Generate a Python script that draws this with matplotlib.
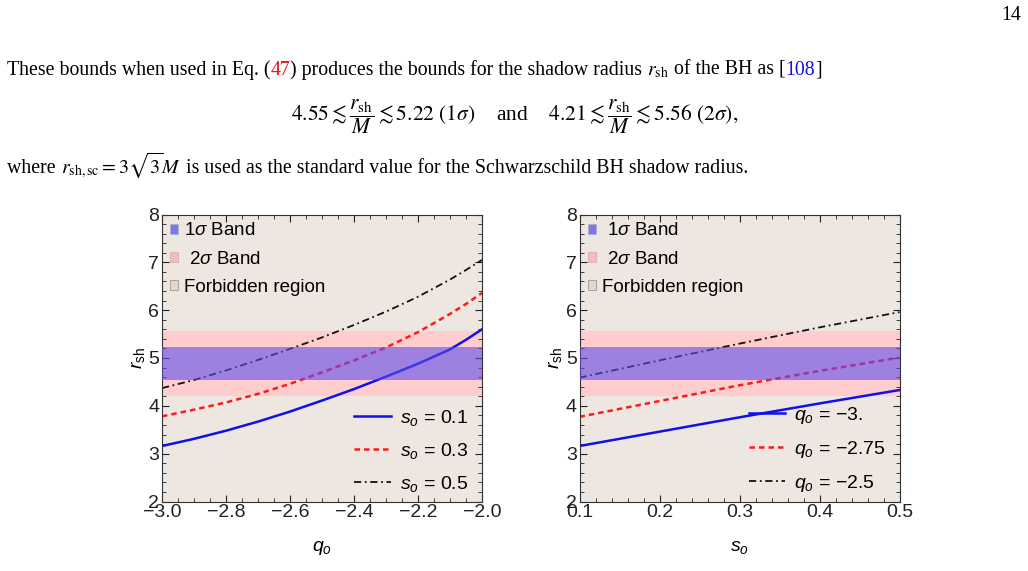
import matplotlib
matplotlib.use("Agg")
import matplotlib.pyplot as plt
from matplotlib.patches import Patch
from matplotlib.lines import Line2D
from matplotlib.ticker import MultipleLocator, FuncFormatter

# ---------------- data ----------------
q_vals = [-3.0, -2.9, -2.8, -2.7, -2.6, -2.5, -2.4, -2.3, -2.2, -2.1, -2.05, -2.0]
rsh_s01 = [3.16, 3.31, 3.48, 3.67, 3.88, 4.11, 4.35, 4.61, 4.88, 5.18, 5.38, 5.60]
rsh_s03 = [3.78, 3.92, 4.07, 4.25, 4.46, 4.70, 4.95, 5.22, 5.54, 5.92, 6.13, 6.36]
rsh_s05 = [4.37, 4.54, 4.74, 4.96, 5.19, 5.43, 5.69, 5.97, 6.28, 6.64, 6.84, 7.05]

s_vals = [0.1, 0.2, 0.3, 0.4, 0.5]
rsh_qm300 = [3.16, 3.46, 3.76, 4.05, 4.33]
rsh_qm275 = [3.77, 4.10, 4.43, 4.73, 5.01]
rsh_qm250 = [4.59, 4.95, 5.30, 5.64, 5.96]

band1 = (4.55, 5.22)
band2 = (4.21, 5.56)

left_labels = ["$s_o$ = 0.1", "$s_o$ = 0.3", "$s_o$ = 0.5"]
right_labels = ["$q_o$ = \u22123.", "$q_o$ = \u22122.75", "$q_o$ = \u22122.5"]
band_labels_left = ["1$\\sigma$ Band", " 2$\\sigma$ Band", "Forbidden region"]
band_labels_right = [" 1$\\sigma$ Band", " 2$\\sigma$ Band", "Forbidden region"]

# ---------------- style ----------------
plt.rcParams['font.family'] = ['Liberation Sans', 'DejaVu Sans']
plt.rcParams['mathtext.fontset'] = 'custom'
plt.rcParams['mathtext.it'] = 'Liberation Sans:italic'
plt.rcParams['mathtext.rm'] = 'Liberation Sans'
plt.rcParams['mathtext.sf'] = 'Liberation Sans'

W, H = 1028, 571
fig = plt.figure(figsize=(W / 100, H / 100), dpi=100)

BG = '#EEE7E1'
C2 = '#FFCDCD'
C1_OVER = (0.36, 0.30, 0.93)

def make_panel(rect, x, series, styles, labels, band_labels, xlim, xmajor, xminor, xlabel, xfmt):
    ax = fig.add_axes(rect)
    ax.set_facecolor(BG)
    ax.axhspan(band2[0], band2[1], color=C2, zorder=1, lw=0)
    for y, st in zip(series, styles):
        ax.plot(x, y, zorder=2, **st)
    ax.axhspan(band1[0], band1[1], color=C1_OVER, alpha=0.6, zorder=3, lw=0)
    ax.set_xlim(*xlim)
    ax.set_ylim(2, 8)
    ax.xaxis.set_major_locator(MultipleLocator(xmajor))
    ax.xaxis.set_minor_locator(MultipleLocator(xminor))
    ax.yaxis.set_major_locator(MultipleLocator(1))
    ax.yaxis.set_minor_locator(MultipleLocator(0.2))
    ax.xaxis.set_major_formatter(xfmt)
    ax.tick_params(which='both', direction='in', top=True, right=True, labelsize=14, colors='#222222', pad=2)
    ax.tick_params(which='major', length=5, width=0.8)
    ax.tick_params(which='minor', length=3, width=0.6)
    for sp in ax.spines.values():
        sp.set_color('#333333')
        sp.set_linewidth(0.8)
    ax.set_ylabel("$r_{\\mathrm{sh}}$", fontsize=14, labelpad=1)
    ax.set_xlabel(xlabel, fontsize=14, labelpad=13)

    # band legend
    hb = [Patch(facecolor='#7B78E6', edgecolor='#B0B0D0', lw=0.6),
          Patch(facecolor='#F3BDBD', edgecolor='#D8B0B0', lw=0.6),
          Patch(facecolor='#E2D7CB', edgecolor='#A09890', lw=0.6)]
    leg1 = ax.legend(hb, band_labels, loc='upper left', bbox_to_anchor=(-0.01, 1.012),
                     frameon=False, fontsize=13.5, handlelength=0.45, handleheight=0.45,
                     handletextpad=0.3, labelspacing=0.6, borderaxespad=0.2)
    ax.add_artist(leg1)
    hl = [Line2D([], [], **st) for st in styles]
    ax.legend(hl, labels, loc='lower right', bbox_to_anchor=(1.0, -0.022), frameon=False,
              fontsize=14, handlelength=1.9, handletextpad=0.45, labelspacing=0.68,
              borderaxespad=0.3)
    return ax

styles = [dict(color='#1010E8', lw=1.8, ls='-'),
          dict(color='#FF1A1A', lw=1.8, ls=(0, (2.2, 1.6))),
          dict(color='#111111', lw=1.3, ls=(0, (4, 2, 1, 2)))]

fmt_q = FuncFormatter(lambda v, p: f"{v:.1f}".replace('-', '\u2212'))
fmt_s = FuncFormatter(lambda v, p: f"{v:.1f}")

ax1 = make_panel([162 / W, 69.5 / H, 320 / W, 287 / H], q_vals,
                 [rsh_s01, rsh_s03, rsh_s05], styles, left_labels, band_labels_left,
                 (-3.0, -2.0), 0.2, 0.05, "$q_o$", fmt_q)
ax2 = make_panel([579.5 / W, 69.5 / H, 320 / W, 287 / H], s_vals,
                 [rsh_qm300, rsh_qm275, rsh_qm250], styles, right_labels, band_labels_right,
                 (0.1, 0.5), 0.1, 0.02, "$s_o$", fmt_s)

# ---------------- page text ----------------
serif = ['Liberation Serif', 'DejaVu Serif']
TS = 14.3
renderer = fig.canvas.get_renderer()

def seq_text(x_px, y_px, pieces, size=TS):
    x = x_px
    for s, c in pieces:
        t = fig.text(x / W, 1 - y_px / H, s, color=c, fontsize=size, family=serif,
                     va='baseline', ha='left', math_fontfamily='stix')
        bb = t.get_window_extent(renderer)
        x += bb.width

fig.text(1021 / W, 1 - 20 / H, "14", fontsize=TS, family=serif, ha='right', va='baseline')
seq_text(7, 75, [("These bounds when used in Eq. (", 'black'), ("47", '#EE1111'),
                 (") produces the bounds for the shadow radius ", 'black'),
                 ("$r_{\\mathrm{sh}}$", 'black'), (" of the BH as [", 'black'),
                 ("108", '#1111EE'), ("]", 'black')])
fig.text(515 / W, 1 - 120 / H,
         "$4.55 \\lesssim \\dfrac{r_{\\mathrm{sh}}}{M} \\lesssim 5.22\\ (1\\sigma)$    and    "
         "$4.21 \\lesssim \\dfrac{r_{\\mathrm{sh}}}{M} \\lesssim 5.56\\ (2\\sigma),$",
         fontsize=15.5, family=serif, ha='center', va='baseline', math_fontfamily='stix')
seq_text(7, 173, [("where ", 'black'), ("$r_{\\mathrm{sh,sc}} = 3\\sqrt{3}M$", 'black'),
                  (" is used as the standard value for the Schwarzschild BH shadow radius.", 'black')])

fig.savefig("out.png", dpi=100)
